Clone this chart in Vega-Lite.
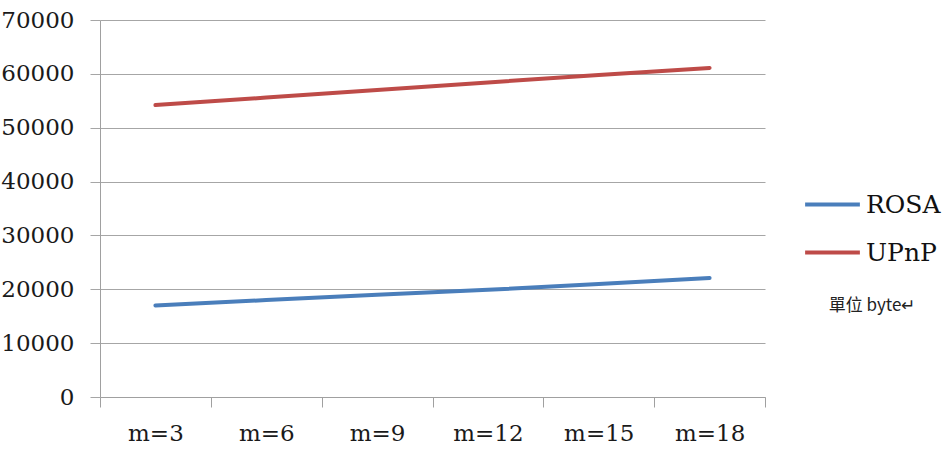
{
  "$schema": "https://vega.github.io/schema/vega-lite/v6.json",
  "width": 665,
  "height": 377,
  "autosize": {"type": "none"},
  "padding": {"left": 100, "top": 20, "right": 183, "bottom": 56},
  "background": "white",
  "config": {"view": {"stroke": null}},
  "data": {
    "values": [
      {"m": "m=3", "series": "ROSA", "value": 17000},
      {"m": "m=6", "series": "ROSA", "value": 18000},
      {"m": "m=9", "series": "ROSA", "value": 19000},
      {"m": "m=12", "series": "ROSA", "value": 19900},
      {"m": "m=15", "series": "ROSA", "value": 21000},
      {"m": "m=18", "series": "ROSA", "value": 22100},
      {"m": "m=3", "series": "UPnP", "value": 54200},
      {"m": "m=6", "series": "UPnP", "value": 55600},
      {"m": "m=9", "series": "UPnP", "value": 57000},
      {"m": "m=12", "series": "UPnP", "value": 58400},
      {"m": "m=15", "series": "UPnP", "value": 59800},
      {"m": "m=18", "series": "UPnP", "value": 61100}
    ]
  },
  "mark": {"type": "line", "strokeWidth": 4, "strokeCap": "round"},
  "encoding": {
    "x": {
      "field": "m",
      "type": "ordinal",
      "sort": ["m=3", "m=6", "m=9", "m=12", "m=15", "m=18"],
      "scale": {"type": "band", "paddingInner": 0, "paddingOuter": 0},
      "axis": {
        "title": null,
        "labelAngle": 0,
        "tickBand": "extent",
        "grid": false,
        "domainColor": "#a0a0a0",
        "tickColor": "#a0a0a0",
        "tickSize": 10,
        "labelFont": "DejaVu Serif",
        "labelFontSize": 23,
        "labelColor": "#1a1a1a",
        "labelPadding": 15
      }
    },
    "y": {
      "field": "value",
      "type": "quantitative",
      "scale": {"domain": [0, 70000], "nice": false},
      "axis": {
        "title": null,
        "values": [0, 10000, 20000, 30000, 40000, 50000, 60000, 70000],
        "format": "d",
        "gridColor": "#a6a6a6",
        "tickColor": "#a6a6a6",
        "domainColor": "#a0a0a0",
        "tickSize": 10,
        "labelFont": "DejaVu Serif",
        "labelFontSize": 23,
        "labelPadding": 16,
        "labelColor": "#1a1a1a"
      }
    },
    "color": {
      "field": "series",
      "type": "nominal",
      "scale": {"domain": ["ROSA", "UPnP"], "range": ["#4a7ebb", "#be4b48"]},
      "legend": {
        "orient": "none",
        "legendX": 703,
        "legendY": 155,
        "padding": 0,
        "title": "單位 byte↵",
        "titleOrient": "bottom",
        "titleAnchor": "middle",
        "titleFont": "Noto Sans CJK TC",
        "titleFontSize": 17,
        "titleFontWeight": "normal",
        "titleColor": "#222",
        "titlePadding": 32,
        "symbolType": "stroke",
        "symbolSize": 3000,
        "symbolStrokeWidth": 4,
        "labelFont": "DejaVu Serif",
        "labelFontSize": 25,
        "labelColor": "#111",
        "labelOffset": 4,
        "rowPadding": 5
      }
    }
  }
}
